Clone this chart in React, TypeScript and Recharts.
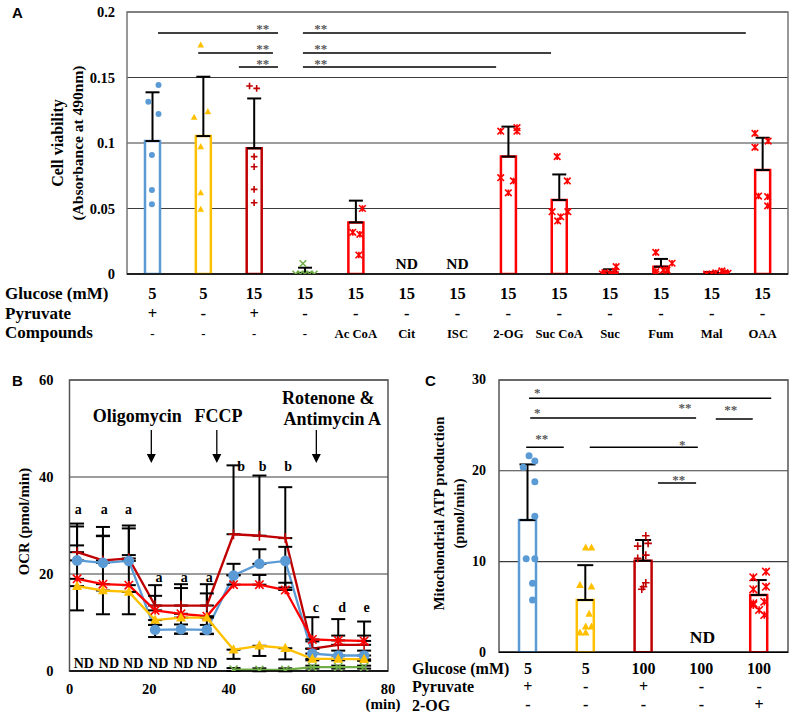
import React from "react"
import {
  ComposedChart, LineChart, Bar, Line, Scatter, XAxis, YAxis, CartesianGrid,
  ErrorBar, Cell, ReferenceLine, ReferenceDot, ReferenceArea,
} from "recharts"

const BLUE = "#5B9BD5"
const YELLOW = "#FFC000"
const DARK = "#C00000"
const RED = "#FF0000"
const GREEN = "#70AD47"
const SERIF = "'Liberation Serif', 'Times New Roman', serif"
const SANS = "'Liberation Sans', Arial, sans-serif"

// ---------- panel A: cell viability ----------
const aGlucose = ["5", "5", "15", "15", "15", "15", "15", "15", "15", "15", "15", "15", "15"]
const aPyruvate = ["+", "-", "+", "-", "-", "-", "-", "-", "-", "-", "-", "-", "-"]
const aCompounds = ["-", "-", "-", "-", "Ac CoA", "Cit", "ISC", "2-OG", "Suc CoA", "Suc", "Fum", "Mal", "OAA"]
const aMean = [0.1015, 0.1053, 0.096, 0.0008, 0.0394, 0, 0, 0.0896, 0.0565, 0.0012, 0.0056, 0.0005, 0.0794]
const aSd = [0.0372, 0.0453, 0.038, 0.004, 0.0166, 0, 0, 0.0229, 0.0195, 0.0024, 0.0059, 0.001, 0.0246]
const aColor = [BLUE, YELLOW, DARK, GREEN, RED, RED, RED, RED, RED, RED, RED, RED, RED]
const aMarker = ["circle", "triangle", "plus", "x", "star", "star", "star", "star", "star", "star", "star", "star", "star"]
const aND = [6, 7]
const aPoints = [
  [0.1443, 0.1315, 0.1221, 0.0908, 0.0641, 0.0532],
  [0.1748, 0.1239, 0.1196, 0.0972, 0.062, 0.0494],
  [0.1435, 0.1417, 0.0896, 0.0819, 0.0646, 0.0544],
  [0.008, 0, 0, 0, 0, 0],
  [0.05, 0.0318, 0.0303, 0.0145],
  [],
  [],
  [0.109, 0.1117, 0.109, 0.0735, 0.071, 0.062],
  [0.0896, 0.071, 0.0476, 0.0476, 0.0405, 0.0437],
  [0.0056, 0.002, 0.001, 0, 0, 0],
  [0.0165, 0.0082, 0.003, 0.0018, 0.003, 0],
  [0.0023, 0.0005, 0, 0.001, 0, 0.0008],
  [0.1074, 0.1015, 0.0967, 0.0595, 0.059, 0.052],
]
const aJitter = [
  [0.12, -0.08, 0.12, -0.01, -0.01, -0.01],
  [-0.05, 0.09, -0.18, -0.05, -0.05, -0.05],
  [-0.09, 0.05, 0, 0, 0, 0],
  [-0.04, -0.18, -0.09, 0, 0.09, 0.18],
  [0.13, -0.06, 0.08, 0.06],
  [],
  [],
  [-0.15, 0.17, 0.17, -0.15, 0.1, 0],
  [-0.04, 0.16, -0.14, 0.17, -0.03, 0.03],
  [0.12, 0.1, -0.1, -0.15, 0, 0.05],
  [-0.1, 0.22, 0.05, -0.1, 0.12, -0.1],
  [0.2, 0.32, 0, 0.26, -0.1, 0.08],
  [-0.15, 0.11, -0.15, -0.08, 0.1, 0.1],
]
// [x1, x2, y]
const aSigLines = [
  [1.11, 3.47, 0.184], [1.9, 3.37, 0.1687], [2.7, 3.47, 0.158],
  [3.96, 12.67, 0.184], [3.96, 8.84, 0.1687], [3.96, 7.76, 0.158],
]
const aSigStars: [number, number, string][] = [
  [3.17, 0.1836, "**"], [3.17, 0.169, "**"], [3.17, 0.157, "**"],
  [4.31, 0.1836, "**"], [4.31, 0.169, "**"], [4.31, 0.157, "**"],
]

// ---------- panel B: OCR time course ----------
const bTime = [1.9, 8.4, 14.9, 21.5, 28, 34.5, 41.2, 47.7, 54.2, 61, 67.5, 74]
const bBlue = [22.8, 22.3, 22.7, 8.5, 8.6, 8.5, 19.7, 22.1, 22.7, 3.6, 3.2, 3.2]
const bYellow = [17.5, 16.6, 16.3, 10.5, 11.0, 11.0, 4.4, 5.2, 4.7, 2.5, 2.5, 2.4]
const bDark = [24.5, 22.8, 23.2, 13.5, 13.5, 13.5, 28.2, 27.9, 27.4, 4.6, 5.4, 5.4]
const bRed = [19.0, 17.9, 17.7, 12.5, 11.8, 11.3, 17.8, 17.8, 16.7, 6.5, 6.3, 6.2]
const bGreen = [null, null, null, null, null, null, 0.3, 0.25, 0.25, 0.8, 0.8, 0.8]
const bDarkUp = [5.9, 6.9, 6.8, 4.2, 4.4, 4.4, 14.2, 12.4, 10.5, 1.5, 1.9, 1.9]
const bRedUp = [10.8, 10.0, 11.7, 3.0, 5.3, 4.7, 2.0, 2.0, 1.5, 4.6, 4.4, 4.0]
const bBlueUp = [3.1, 5.5, 1.2, 1.0, 1.0, 1.0, 2.4, 3.0, 2.9, 1.0, 1.0, 1.0]
const bBlueDown = [0, 0, 0, 1.5, 0.9, 0.9, 0, 0, 5.5, 0, 0, 0]
const bYellowDown = [5.0, 4.9, 4.6, 1.0, 3.3, 3.3, 1.9, 2.1, 2.3, 0.3, 0.3, 0.3]
const bGreenErr = [0, 0, 0, 0, 0, 0, 0.3, 0.3, 0.3, 0.3, 0.3, 0.3]
// [x, y, text]
const bLetters: [number, number, string][] = [
  [2.2, 32.3, "a"], [8.7, 32.3, "a"], [14.8, 32.3, "a"],
  [22.5, 18.3, "a"], [28.8, 18.3, "a"], [35.1, 18.3, "a"],
  [43.1, 41.2, "b"], [48.5, 41.2, "b"], [54.9, 41.2, "b"],
  [61.9, 12.1, "c"], [68.5, 12.1, "d"], [74.6, 12.1, "e"],
]
const bND = [3.6, 9.9, 16.0, 22.3, 28.6, 34.6]
const bArrows = [20.55, 37.0, 62.0]
const bTreatments: [number, number, string][] = [
  [17.0, 51.3, "Oligomycin"], [37.4, 51.3, "FCCP"],
  [65.0, 55.0, "Rotenone &"], [66.0, 50.7, "Antimycin A"],
]

// ---------- panel C: mitochondrial ATP production ----------
const cGlucose = ["5", "5", "100", "100", "100"]
const cPyruvate = ["+", "-", "+", "-", "-"]
const cOG = ["-", "-", "-", "-", "+"]
const cMean = [14.57, 5.76, 10.09, 0, 6.31]
const cSd = [6.13, 3.84, 2.28, 0, 1.65]
const cColor = [BLUE, YELLOW, DARK, RED, RED]
const cMarker = ["circle", "triangle", "plus", "star", "star"]
const cPoints = [
  [21.65, 21.07, 20.4, 18.8, 15.0, 10.3, 10.3, 7.6, 5.76],
  [11.52, 11.52, 7.41, 7.23, 4.22, 2.82, 2.82, 2.16, 2.16],
  [12.84, 12.0, 11.7, 10.71, 10.35, 7.66, 7.22, 6.94],
  [],
  [8.88, 8.26, 7.23, 6.94, 5.57, 5.4, 4.66, 4.11, 5.2],
]
const cJitter = [
  [0.02, 0.12, -0.08, 0.12, 0.12, -0.03, 0.12, 0.08, 0.08],
  [0, 0.1, -0.1, 0.1, 0.06, 0, 0.1, -0.1, 0],
  [0.04, 0.08, -0.1, 0.04, -0.1, 0.04, 0, -0.03],
  [],
  [0.12, -0.1, 0.12, -0.1, 0.09, -0.1, 0, 0.09, -0.1],
]
const cSigLines = [
  [1.02, 5.21, 28.0], [1.04, 3.91, 25.8], [4.25, 4.89, 25.7],
  [0.97, 1.62, 22.6], [2.07, 3.94, 22.6], [3.25, 3.91, 18.65],
]
const cSigStars: [number, number, string][] = [
  [1.16, 28.15, "*"], [1.16, 25.95, "*"], [3.72, 26.5, "**"], [4.51, 26.3, "**"],
  [1.24, 23.05, "**"], [3.67, 22.4, "*"], [3.61, 18.5, "**"],
]

const yTick = (size: number, dy = "0.355em") => (p: any) => (
  <text x={p.x} y={p.y} dy={dy} textAnchor="end" fontFamily={SERIF} fontWeight={700} fontSize={size} fill="#000">
    {p.payload.value}
  </text>
)
const xTick = (size: number) => (p: any) => (
  <text x={p.x} y={p.y} dy="0.71em" textAnchor="middle" fontFamily={SERIF} fontWeight={700} fontSize={size} fill="#000">
    {p.payload.value}
  </text>
)

function drawMarker(kind: string, color: string, s: number, cx: number, cy: number) {
  switch (kind) {
    case "circle":
      return <circle cx={cx} cy={cy} r={s} fill={color} />
    case "triangle":
      return <path d={`M${cx},${cy - s * 1.1} L${cx + s},${cy + s * 0.75} L${cx - s},${cy + s * 0.75} Z`} fill={color} />
    case "plus":
      return <path d={`M${cx - s},${cy} H${cx + s} M${cx},${cy - s} V${cy + s}`} stroke={color} strokeWidth={1.6} fill="none" />
    case "x":
      return <path d={`M${cx - s},${cy - s} L${cx + s},${cy + s} M${cx - s},${cy + s} L${cx + s},${cy - s}`} stroke={color} strokeWidth={1.5} fill="none" />
    default:
      return (
        <path
          d={`M${cx - s},${cy - s} L${cx + s},${cy + s} M${cx - s},${cy + s} L${cx + s},${cy - s} M${cx},${cy - s} V${cy + s}`}
          stroke={color} strokeWidth={1.6} fill="none"
        />
      )
  }
}

const shapeOf = (kind: string, color: string, s: number) => (p: any) => {
  if (p.cx == null || p.cy == null || isNaN(p.cx) || isNaN(p.cy)) return <g key={p.index} />
  return <g key={p.index}>{drawMarker(kind, color, s, p.cx, p.cy)}</g>
}

const textAt = (key: string, x: number, y: number, text: string, size: number, fill = "#000") => (
  <ReferenceDot
    key={key}
    x={x}
    y={y}
    r={0}
    shape={(p: any) => (
      <text x={p.cx} y={p.cy} textAnchor="middle" fontFamily={SERIF} fontWeight={700} fontSize={size} fill={fill}>
        {text}
      </text>
    )}
  />
)

const aTick = (p: any) => {
  const i = Math.round(p.payload.value) - 1
  const st = { fontFamily: SERIF, fontWeight: 700, fill: "#000" }
  return (
    <g>
      <text x={p.x} y={p.y + 25} textAnchor="middle" fontSize={16.5} {...st}>{aGlucose[i]}</text>
      <text x={p.x} y={p.y + 45} textAnchor="middle" fontSize={16.5} {...st}>{aPyruvate[i]}</text>
      <text x={p.x} y={p.y + 64} textAnchor="middle" fontSize={12.7} {...st}>{aCompounds[i]}</text>
    </g>
  )
}

const cTick = (p: any) => {
  const i = Math.round(p.payload.value) - 1
  const st = { fontFamily: SERIF, fontWeight: 700, fill: "#000", fontSize: 16 }
  return (
    <g>
      <text x={p.x} y={p.y + 21.5} textAnchor="middle" {...st}>{cGlucose[i]}</text>
      <text x={p.x} y={p.y + 39.5} textAnchor="middle" {...st}>{cPyruvate[i]}</text>
      <text x={p.x} y={p.y + 58} textAnchor="middle" {...st}>{cOG[i]}</text>
    </g>
  )
}

function PanelA() {
  const rows = aMean.map((m, i) => ({ x: i + 1, mean: m, err: [0, aSd[i]] }))
  return (
    <ComposedChart width={793} height={345} data={rows} margin={{ top: 12, right: 5, left: 67, bottom: 6 }}>
      <CartesianGrid vertical={false} stroke="#3c3c3c" strokeWidth={1.2} />
      <ReferenceArea x1={0.5} x2={13.5} y1={0} y2={0.2} fill="none" fillOpacity={0} stroke="#777" strokeWidth={1.5} />
      <XAxis
        dataKey="x" type="number" domain={[0.5, 13.5]} ticks={rows.map((r) => r.x)} interval={0}
        tick={aTick} tickLine={false} tickSize={0} tickMargin={0} height={65}
        axisLine={{ stroke: "#000", strokeWidth: 1.5 }} allowDataOverflow
      />
      <XAxis xAxisId="pts" dataKey="x" type="number" domain={[0.5, 13.5]} hide allowDataOverflow />
      <YAxis
        type="number" domain={[0, 0.2]} ticks={[0, 0.05, 0.1, 0.15, 0.2]} width={60}
        tick={yTick(14.5)} tickLine={false} tickSize={0} tickMargin={12} axisLine={false} allowDataOverflow
      />
      <Bar dataKey="mean" barSize={15} isAnimationActive={false}>
        {rows.map((r, i) => (
          <Cell key={i} fill="#fff" stroke={aColor[i]} strokeWidth={2.5} />
        ))}
        <ErrorBar dataKey="err" width={7} stroke="#000" strokeWidth={2} direction="y" />
      </Bar>
      {aPoints.map((pts, g) =>
        pts.length ? (
          <Scatter
            key={"s" + g}
            xAxisId="pts"
            data={pts.map((v, k) => ({ x: g + 1 + aJitter[g][k], y: v }))}
            dataKey="y"
            shape={shapeOf(aMarker[g], aColor[g], aMarker[g] === "circle" ? 3 : 3.3)}
            isAnimationActive={false}
          />
        ) : null
      )}
      {aSigLines.map(([x1, x2, y], i) => (
        <ReferenceLine key={"l" + i} segment={[{ x: x1, y }, { x: x2, y }]} stroke="#000" strokeWidth={1.5} />
      ))}
      {aSigStars.map(([x, y, t], i) => textAt("st" + i, x, y, t, 13, "#595959"))}
      {aND.map((c) => textAt("nd" + c, c, 0.0038, "ND", 15.5))}
    </ComposedChart>
  )
}

function PanelB() {
  const rows = bTime.map((t, i) => ({
    t,
    blue: bBlue[i], blueE: [bBlueDown[i], bBlueUp[i]],
    yellow: bYellow[i], yellowE: [bYellowDown[i], 0],
    dark: bDark[i], darkE: [0, bDarkUp[i]],
    red: bRed[i], redE: [0, bRedUp[i]],
    green: bGreen[i], greenE: bGreen[i] == null ? undefined : [bGreenErr[i], bGreenErr[i]],
  }))
  const eb = (k: string) => <ErrorBar dataKey={k} width={7} stroke="#000" strokeWidth={2} direction="y" />
  return (
    <LineChart width={400} height={350} data={rows} margin={{ top: 20, right: 12, left: 19.5, bottom: 4 }}>
      <CartesianGrid vertical={false} stroke="#3c3c3c" strokeWidth={1.2} />
      <ReferenceArea x1={0} x2={80} y1={0} y2={60} fill="none" fillOpacity={0} stroke="#555" strokeWidth={1.5} />
      <XAxis
        dataKey="t" type="number" domain={[0, 80]} ticks={[0, 20, 40, 60, 80]} height={35}
        tick={xTick(14.5)} tickLine={false} tickSize={0} tickMargin={13}
        axisLine={{ stroke: "#000", strokeWidth: 1.5 }} allowDataOverflow
      />
      <YAxis
        type="number" domain={[0, 60]} ticks={[0, 20, 40, 60]} width={50}
        tick={yTick(14.5)} tickLine={false} tickSize={0} tickMargin={16} axisLine={false} allowDataOverflow
      />
      <Line dataKey="dark" stroke={DARK} strokeWidth={2.3} dot={shapeOf("plus", DARK, 5)} isAnimationActive={false}>
        {eb("darkE")}
      </Line>
      <Line dataKey="blue" stroke={BLUE} strokeWidth={2.3} dot={shapeOf("circle", BLUE, 5.3)} isAnimationActive={false}>
        {eb("blueE")}
      </Line>
      <Line dataKey="red" stroke={RED} strokeWidth={2.3} dot={shapeOf("star", RED, 4.2)} isAnimationActive={false}>
        {eb("redE")}
      </Line>
      <Line dataKey="yellow" stroke={YELLOW} strokeWidth={2.3} dot={shapeOf("triangle", YELLOW, 5)} isAnimationActive={false}>
        {eb("yellowE")}
      </Line>
      <Line dataKey="green" stroke={GREEN} strokeWidth={2.3} dot={shapeOf("x", GREEN, 4)} isAnimationActive={false}>
        {eb("greenE")}
      </Line>
      {bLetters.map(([x, y, t], i) => textAt("lt" + i, x, y, t, 14))}
      {bND.map((x, i) => textAt("bnd" + i, x, 0.7, "ND", 14))}
      {bTreatments.map(([x, y, t], i) => textAt("tr" + i, x, y, t, 18))}
      {bArrows.map((x, i) => (
        <ReferenceDot
          key={"ar" + i}
          x={x}
          y={42.9}
          r={0}
          shape={(p: any) => (
            <g>
              <line x1={p.cx} y1={p.cy - 33} x2={p.cx} y2={p.cy - 8} stroke="#000" strokeWidth={1.3} />
              <path d={`M${p.cx - 4.5},${p.cy - 9} L${p.cx + 4.5},${p.cy - 9} L${p.cx},${p.cy} Z`} fill="#000" />
            </g>
          )}
        />
      ))}
    </LineChart>
  )
}

function PanelC() {
  const rows = cMean.map((m, i) => ({ x: i + 1, mean: m, err: [0, cSd[i]] }))
  return (
    <ComposedChart width={393} height={356} data={rows} margin={{ top: 20, right: 5, left: 49, bottom: 3.7 }}>
      <CartesianGrid vertical={false} stroke="#3c3c3c" strokeWidth={1.2} />
      <ReferenceArea x1={0.5} x2={5.5} y1={0} y2={30} fill="none" fillOpacity={0} stroke="#555" strokeWidth={1.5} />
      <XAxis
        dataKey="x" type="number" domain={[0.5, 5.5]} ticks={rows.map((r) => r.x)} interval={0}
        tick={cTick} tickLine={false} tickSize={0} tickMargin={0} height={60}
        axisLine={{ stroke: "#000", strokeWidth: 1.5 }} allowDataOverflow
      />
      <XAxis xAxisId="pts" dataKey="x" type="number" domain={[0.5, 5.5]} hide allowDataOverflow />
      <YAxis
        type="number" domain={[0, 30]} ticks={[0, 10, 20, 30]} width={50}
        tick={yTick(14, "0.3em")} tickLine={false} tickSize={0} tickMargin={13} axisLine={false} allowDataOverflow
      />
      <Bar dataKey="mean" barSize={17} isAnimationActive={false}>
        {rows.map((r, i) => (
          <Cell key={i} fill="#fff" stroke={cColor[i]} strokeWidth={2.5} />
        ))}
        <ErrorBar dataKey="err" width={8} stroke="#000" strokeWidth={2} direction="y" />
      </Bar>
      {cPoints.map((pts, g) =>
        pts.length ? (
          <Scatter
            key={"c" + g}
            xAxisId="pts"
            data={pts.map((v, k) => ({ x: g + 1 + cJitter[g][k], y: v }))}
            dataKey="y"
            shape={shapeOf(cMarker[g], cColor[g], cMarker[g] === "circle" ? 3.5 : 3.8)}
            isAnimationActive={false}
          />
        ) : null
      )}
      {cSigLines.map(([x1, x2, y], i) => (
        <ReferenceLine key={"cl" + i} segment={[{ x: x1, y }, { x: x2, y }]} stroke="#000" strokeWidth={1.5} />
      ))}
      {cSigStars.map(([x, y, t], i) => textAt("cs" + i, x, y, t, 13, "#595959"))}
      {textAt("cnd", 4.02, 1.0, "ND", 17.5)}
    </ComposedChart>
  )
}

export default function App() {
  const bold = { fontFamily: SERIF, fontWeight: 700, fill: "#000" }
  return (
    <div style={{ position: "absolute", left: 0, top: 0, width: 793, height: 716, background: "#fff", overflow: "hidden" }}>
      <div style={{ position: "absolute", left: 0, top: 0 }}>
        <PanelA />
      </div>
      <div style={{ position: "absolute", left: 0, top: 360 }}>
        <PanelB />
      </div>
      <div style={{ position: "absolute", left: 400, top: 360 }}>
        <PanelC />
      </div>
      <svg width={793} height={716} style={{ position: "absolute", left: 0, top: 0, pointerEvents: "none" }}>
        <text x={12} y={18} fontFamily={SANS} fontWeight={700} fontSize={15}>A</text>
        <text x={12} y={386} fontFamily={SANS} fontWeight={700} fontSize={15}>B</text>
        <text x={425} y={386} fontFamily={SANS} fontWeight={700} fontSize={15}>C</text>

        <text transform="translate(63,143) rotate(-90)" textAnchor="middle" fontSize={16} {...bold}>Cell viability</text>
        <text transform="translate(82.5,143) rotate(-90)" textAnchor="middle" fontSize={15.5} {...bold}>(Absorbance at 490nm)</text>
        <text x={5} y={299} fontSize={17} {...bold}>Glucose (mM)</text>
        <text x={5} y={319} fontSize={17} {...bold}>Pyruvate</text>
        <text x={5} y={338} fontSize={17} {...bold}>Compounds</text>

        <text transform="translate(28.5,521.5) rotate(-90)" textAnchor="middle" fontSize={14.8} {...bold}>OCR (pmol/min)</text>
        <text x={383} y={709} textAnchor="middle" fontSize={15} {...bold}>(min)</text>

        <text transform="translate(443.5,513.5) rotate(-90)" textAnchor="middle" fontSize={14.7} {...bold}>Mitochondrial ATP production</text>
        <text transform="translate(463.5,513.5) rotate(-90)" textAnchor="middle" fontSize={14.7} {...bold}>(pmol/min)</text>
        <text x={412} y={674} fontSize={16} {...bold}>Glucose (mM)</text>
        <text x={412} y={692} fontSize={16} {...bold}>Pyruvate</text>
        <text x={412} y={710.5} fontSize={16} {...bold}>2-OG</text>
      </svg>
    </div>
  )
}
